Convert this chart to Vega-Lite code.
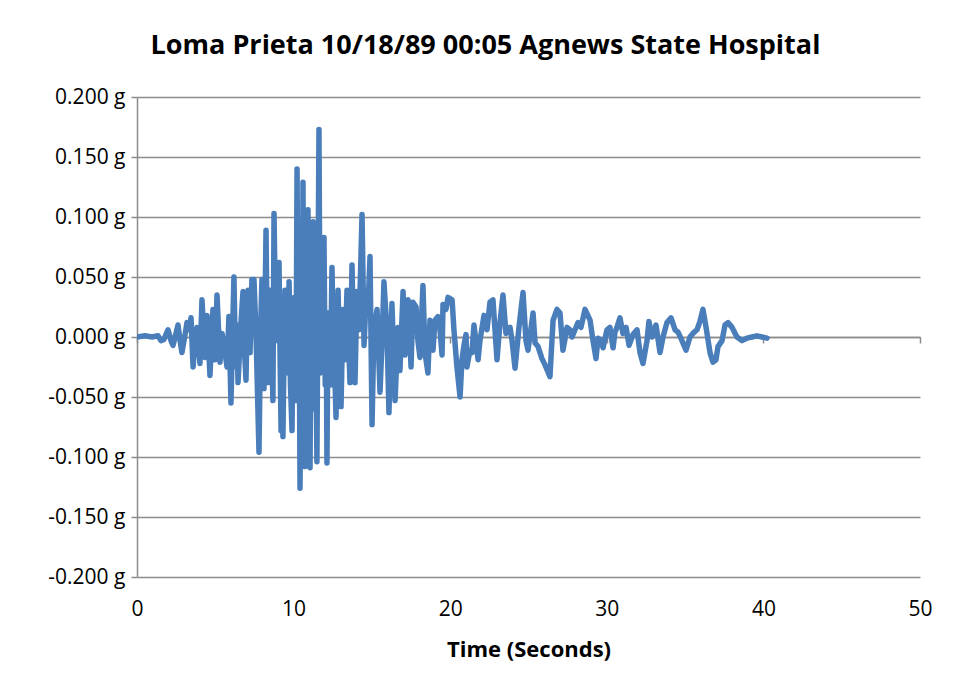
{
  "$schema": "https://vega.github.io/schema/vega-lite/v6.json",
  "autosize": {"type": "none"},
  "padding": {"left": 137, "top": 97, "right": 34, "bottom": 121},
  "width": 783,
  "height": 480,
  "background": "white",
  "config": {
    "font": "Open Sans, sans-serif",
    "view": {"stroke": null}
  },
  "title": {
    "text": "Loma Prieta 10/18/89 00:05 Agnews State Hospital",
    "fontSize": 27,
    "fontWeight": "bold",
    "color": "#000000",
    "anchor": "middle",
    "dx": -43,
    "offset": 26
  },
  "datasets": {
    "accel": [
      {"t": 0, "g": 0}, {"t": 0.51, "g": 0.001}, {"t": 0.96, "g": 0}, {"t": 1.34, "g": 0.001},
      {"t": 1.53, "g": -0.003}, {"t": 1.72, "g": -0.002}, {"t": 1.98, "g": 0.006}, {"t": 2.17, "g": -0.003},
      {"t": 2.30, "g": -0.007}, {"t": 2.49, "g": 0.003}, {"t": 2.62, "g": 0.010}, {"t": 2.75, "g": -0.003},
      {"t": 2.87, "g": -0.013}, {"t": 3.07, "g": 0.002}, {"t": 3.19, "g": 0.012}, {"t": 3.32, "g": 0.006},
      {"t": 3.45, "g": 0.016}, {"t": 3.58, "g": -0.025}, {"t": 3.70, "g": -0.003}, {"t": 3.83, "g": 0.008},
      {"t": 4.02, "g": -0.022}, {"t": 4.15, "g": 0.031}, {"t": 4.34, "g": -0.017}, {"t": 4.47, "g": 0.018},
      {"t": 4.66, "g": -0.032}, {"t": 4.85, "g": 0.023}, {"t": 4.98, "g": -0.019}, {"t": 5.11, "g": 0.035},
      {"t": 5.30, "g": -0.021}, {"t": 5.43, "g": 0.003}, {"t": 5.56, "g": -0.007}, {"t": 5.75, "g": -0.025},
      {"t": 5.87, "g": 0.017}, {"t": 6.00, "g": -0.055}, {"t": 6.19, "g": 0.050}, {"t": 6.26, "g": 0.000},
      {"t": 6.32, "g": -0.025}, {"t": 6.38, "g": 0.010},
      {"t": 6.45, "g": -0.038}, {"t": 6.64, "g": 0.012}, {"t": 6.77, "g": 0.038}, {"t": 6.86, "g": -0.010},
      {"t": 6.96, "g": -0.036}, {"t": 7.03, "g": 0.010},
      {"t": 7.09, "g": 0.039}, {"t": 7.22, "g": -0.013}, {"t": 7.34, "g": 0.048}, {"t": 7.40, "g": 0.020}, {"t": 7.47, "g": 0.048},
      {"t": 7.60, "g": 0.003}, {"t": 7.79, "g": -0.096}, {"t": 7.90, "g": 0.010}, {"t": 7.98, "g": 0.048}, {"t": 8.05, "g": 0.000},
      {"t": 8.11, "g": -0.043}, {"t": 8.24, "g": 0.089}, {"t": 8.30, "g": 0.010}, {"t": 8.37, "g": -0.038}, {"t": 8.43, "g": 0.010},
      {"t": 8.49, "g": 0.039}, {"t": 8.60, "g": -0.010}, {"t": 8.68, "g": -0.053},
      {"t": 8.75, "g": 0.103}, {"t": 8.84, "g": 0.020}, {"t": 8.94, "g": -0.003}, {"t": 9.07, "g": 0.062}, {"t": 9.14, "g": -0.020},
      {"t": 9.20, "g": -0.078}, {"t": 9.26, "g": -0.030}, {"t": 9.32, "g": -0.083}, {"t": 9.40, "g": 0.000},
      {"t": 9.45, "g": 0.039}, {"t": 9.52, "g": -0.020}, {"t": 9.58, "g": 0.031}, {"t": 9.64, "g": -0.030},
      {"t": 9.71, "g": 0.046}, {"t": 9.80, "g": -0.040}, {"t": 9.90, "g": -0.078}, {"t": 9.96, "g": 0.010},
      {"t": 10.03, "g": 0.033}, {"t": 10.09, "g": -0.030}, {"t": 10.15, "g": -0.053}, {"t": 10.22, "g": 0.140},
      {"t": 10.30, "g": -0.050}, {"t": 10.35, "g": 0.040}, {"t": 10.41, "g": -0.126}, {"t": 10.50, "g": 0.020},
      {"t": 10.55, "g": -0.060}, {"t": 10.60, "g": 0.129}, {"t": 10.66, "g": -0.040}, {"t": 10.73, "g": -0.108},
      {"t": 10.80, "g": 0.030}, {"t": 10.85, "g": -0.050}, {"t": 10.92, "g": 0.106}, {"t": 10.98, "g": -0.030},
      {"t": 11.05, "g": -0.109}, {"t": 11.12, "g": 0.040}, {"t": 11.18, "g": -0.040}, {"t": 11.24, "g": 0.096},
      {"t": 11.32, "g": -0.060}, {"t": 11.40, "g": 0.020}, {"t": 11.49, "g": -0.104}, {"t": 11.62, "g": 0.173},
      {"t": 11.70, "g": -0.030}, {"t": 11.76, "g": 0.030}, {"t": 11.81, "g": -0.023}, {"t": 11.94, "g": 0.083},
      {"t": 12.02, "g": -0.040}, {"t": 12.08, "g": 0.020}, {"t": 12.13, "g": -0.105}, {"t": 12.20, "g": 0.020},
      {"t": 12.26, "g": -0.011}, {"t": 12.35, "g": -0.040},
      {"t": 12.45, "g": 0.058}, {"t": 12.52, "g": 0.010}, {"t": 12.58, "g": -0.007}, {"t": 12.71, "g": -0.067}, {"t": 12.78, "g": 0.000},
      {"t": 12.84, "g": 0.039}, {"t": 12.93, "g": -0.010},
      {"t": 13.03, "g": -0.058}, {"t": 13.15, "g": 0.023}, {"t": 13.28, "g": -0.019}, {"t": 13.41, "g": 0.039},
      {"t": 13.60, "g": -0.038}, {"t": 13.73, "g": 0.060}, {"t": 13.82, "g": 0.000}, {"t": 13.92, "g": -0.038}, {"t": 14.05, "g": 0.038},
      {"t": 14.18, "g": 0.006}, {"t": 14.37, "g": 0.102}, {"t": 14.50, "g": -0.007}, {"t": 14.62, "g": 0.031},
      {"t": 14.75, "g": 0.023}, {"t": 14.88, "g": 0.067}, {"t": 15.01, "g": -0.073}, {"t": 15.13, "g": 0.006},
      {"t": 15.33, "g": 0.023}, {"t": 15.52, "g": -0.046}, {"t": 15.65, "g": -0.003}, {"t": 15.77, "g": 0.046},
      {"t": 15.96, "g": 0.006}, {"t": 16.09, "g": -0.063}, {"t": 16.28, "g": 0.028}, {"t": 16.48, "g": -0.053},
      {"t": 16.67, "g": 0.008}, {"t": 16.79, "g": -0.028}, {"t": 16.99, "g": 0.038}, {"t": 17.11, "g": -0.015},
      {"t": 17.31, "g": 0.031}, {"t": 17.50, "g": -0.025}, {"t": 17.62, "g": 0.029}, {"t": 17.82, "g": 0.025},
      {"t": 17.94, "g": -0.003}, {"t": 18.07, "g": -0.017}, {"t": 18.26, "g": 0.043}, {"t": 18.39, "g": -0.013},
      {"t": 18.58, "g": -0.030}, {"t": 18.71, "g": 0.014}, {"t": 18.90, "g": -0.011}, {"t": 19.03, "g": 0.014},
      {"t": 19.22, "g": 0.017}, {"t": 19.35, "g": 0.006}, {"t": 19.48, "g": -0.015}, {"t": 19.54, "g": 0.027},
      {"t": 19.73, "g": 0.023}, {"t": 19.86, "g": 0.033}, {"t": 20.12, "g": 0.031}, {"t": 20.24, "g": 0.006},
      {"t": 20.43, "g": -0.025}, {"t": 20.63, "g": -0.050}, {"t": 20.75, "g": -0.019}, {"t": 20.88, "g": -0.007},
      {"t": 21.01, "g": 0.002}, {"t": 21.07, "g": -0.025}, {"t": 21.26, "g": -0.011}, {"t": 21.39, "g": -0.013},
      {"t": 21.52, "g": 0.010}, {"t": 21.78, "g": -0.019}, {"t": 21.90, "g": -0.003}, {"t": 22.16, "g": 0.018},
      {"t": 22.35, "g": 0.006}, {"t": 22.54, "g": 0.029}, {"t": 22.73, "g": 0.031}, {"t": 22.99, "g": -0.019},
      {"t": 23.18, "g": 0.012}, {"t": 23.37, "g": 0.035}, {"t": 23.56, "g": 0.003}, {"t": 23.82, "g": 0.008},
      {"t": 23.95, "g": -0.003}, {"t": 24.14, "g": -0.026}, {"t": 24.39, "g": 0.008}, {"t": 24.65, "g": 0.037},
      {"t": 24.84, "g": -0.003}, {"t": 24.97, "g": -0.011}, {"t": 25.29, "g": 0.020}, {"t": 25.42, "g": -0.005},
      {"t": 25.61, "g": -0.008}, {"t": 25.86, "g": -0.018}, {"t": 26.05, "g": -0.023}, {"t": 26.37, "g": -0.033},
      {"t": 26.57, "g": 0.014}, {"t": 26.82, "g": 0.023}, {"t": 27.01, "g": 0.020}, {"t": 27.20, "g": -0.011},
      {"t": 27.46, "g": 0.008}, {"t": 27.65, "g": 0.006}, {"t": 27.78, "g": 0}, {"t": 27.97, "g": 0.006},
      {"t": 28.16, "g": 0.012}, {"t": 28.35, "g": 0.008}, {"t": 28.61, "g": 0.023}, {"t": 28.93, "g": 0.014},
      {"t": 29.12, "g": -0.003}, {"t": 29.31, "g": -0.018}, {"t": 29.44, "g": -0.001}, {"t": 29.63, "g": -0.003},
      {"t": 29.76, "g": -0.009}, {"t": 30.01, "g": 0.006}, {"t": 30.20, "g": 0.008}, {"t": 30.40, "g": -0.009},
      {"t": 30.52, "g": 0.004}, {"t": 30.65, "g": 0.008}, {"t": 30.84, "g": 0.016}, {"t": 31.03, "g": 0.003},
      {"t": 31.23, "g": 0.008}, {"t": 31.42, "g": -0.007}, {"t": 31.67, "g": 0.002}, {"t": 31.93, "g": 0.006},
      {"t": 32.12, "g": -0.013}, {"t": 32.31, "g": -0.022}, {"t": 32.57, "g": -0.003}, {"t": 32.69, "g": 0.013},
      {"t": 32.89, "g": 0}, {"t": 33.14, "g": 0.010}, {"t": 33.40, "g": -0.013}, {"t": 33.59, "g": 0},
      {"t": 33.84, "g": 0.012}, {"t": 34.10, "g": 0.016}, {"t": 34.36, "g": 0.006}, {"t": 34.55, "g": 0.004},
      {"t": 34.80, "g": -0.003}, {"t": 35.06, "g": -0.011}, {"t": 35.31, "g": 0}, {"t": 35.50, "g": 0.003},
      {"t": 35.76, "g": 0.006}, {"t": 35.95, "g": 0.013}, {"t": 36.14, "g": 0.023}, {"t": 36.34, "g": 0.008},
      {"t": 36.59, "g": -0.013}, {"t": 36.78, "g": -0.021}, {"t": 36.97, "g": -0.019}, {"t": 37.10, "g": -0.008},
      {"t": 37.36, "g": -0.003}, {"t": 37.55, "g": 0.010}, {"t": 37.74, "g": 0.012}, {"t": 38.00, "g": 0.008},
      {"t": 38.31, "g": 0}, {"t": 38.63, "g": -0.003}, {"t": 38.95, "g": -0.001}, {"t": 39.27, "g": 0},
      {"t": 39.59, "g": 0.001}, {"t": 39.91, "g": 0}, {"t": 40.23, "g": -0.001}
    ],
    "zero": [{"t0": 0, "t1": 50, "g": 0}]
  },
  "resolve": {"axis": {"x": "independent"}},
  "layer": [
    {
      "data": {"name": "accel"},
      "mark": {"type": "line", "color": "#4A7EBB", "strokeWidth": 5.5, "strokeCap": "round", "strokeJoin": "round", "clip": true},
      "encoding": {
        "x": {
          "field": "t", "type": "quantitative",
          "scale": {"domain": [0, 50], "nice": false, "zero": false},
          "axis": {
            "orient": "bottom",
            "values": [0, 10, 20, 30, 40, 50],
            "grid": false, "domain": false, "ticks": false,
            "labelFontSize": 21, "labelColor": "#000000", "labelPadding": 21,
            "labelFlush": false,
            "title": "Time (Seconds)", "titleFontSize": 22, "titleFontWeight": "bold",
            "titleColor": "#000000", "titlePadding": 20
          }
        },
        "y": {
          "field": "g", "type": "quantitative",
          "scale": {"domain": [-0.2, 0.2], "nice": false, "zero": false},
          "axis": {
            "values": [-0.2, -0.15, -0.1, -0.05, 0, 0.05, 0.1, 0.15, 0.2],
            "labelExpr": "(datum.value < -0.0001 ? '-' : '') + format(abs(datum.value), '.3f') + ' g'",
            "grid": true, "gridColor": "#8C8C8C", "gridWidth": 1.5,
            "domain": true, "domainColor": "#8C8C8C", "domainWidth": 1.5,
            "ticks": true, "tickColor": "#8C8C8C", "tickSize": 6, "tickWidth": 1.5,
            "labelFontSize": 21, "labelColor": "#000000", "labelPadding": 6,
            "labelFlush": false,
            "title": null
          }
        }
      }
    },
    {
      "data": {"name": "zero"},
      "mark": {"type": "rule", "color": "#8C8C8C", "strokeWidth": 1.5, "strokeOpacity": 0},
      "encoding": {
        "x": {
          "field": "t0", "type": "quantitative",
          "axis": {
            "orient": "bottom", "offset": -240,
            "values": [0, 10, 20, 30, 40, 50],
            "labels": false, "grid": false, "zindex": 0,
            "domain": true, "domainColor": "#8C8C8C", "domainWidth": 1.5,
            "ticks": true, "tickColor": "#8C8C8C", "tickSize": 6, "tickWidth": 1.5,
            "title": null
          }
        },
        "x2": {"field": "t1"},
        "y": {"field": "g", "type": "quantitative"}
      }
    }
  ]
}
